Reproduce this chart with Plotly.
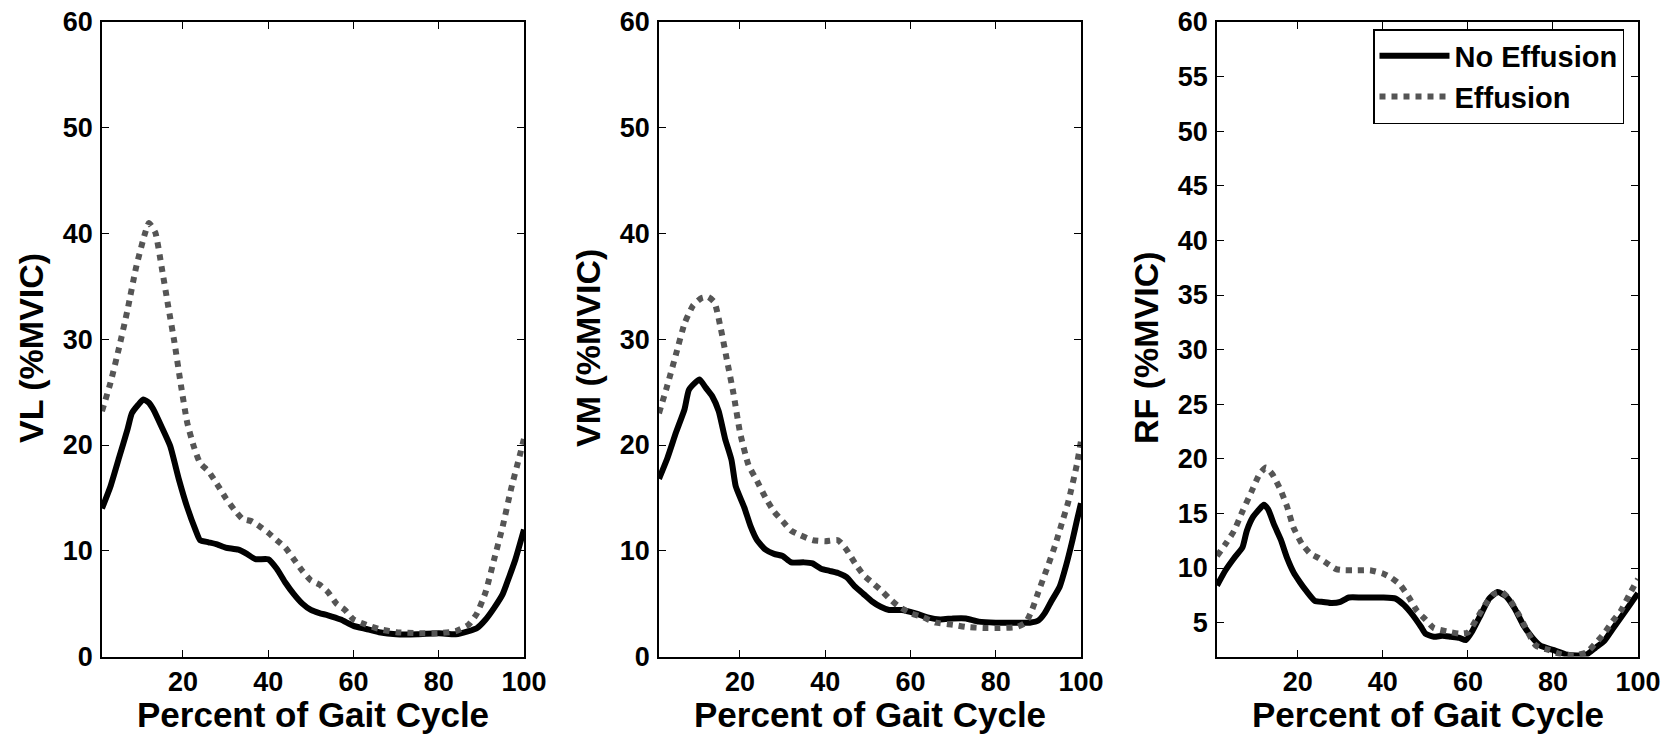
import plotly.graph_objects as go

# ---------------- data ----------------
x_ticks = [20, 40, 60, 80, 100]
y_ticks_a = [0, 10, 20, 30, 40, 50, 60]
y_ticks_rf = [5, 10, 15, 20, 25, 30, 35, 40, 45, 50, 55, 60]

series_names = ["No Effusion", "Effusion"]
panel_labels = ["VL (%MVIC)", "VM (%MVIC)", "RF (%MVIC)"]
x_title = "Percent of Gait Cycle"

# VL
vl_ne_x = [1, 3, 5, 7, 8, 9.5, 10.7, 12, 13, 15, 17, 19, 21, 23, 24, 26, 28, 30, 33, 35, 37, 40,
           42, 44, 46, 48, 50, 52, 54, 57, 60, 63, 66, 70, 75, 80, 84, 87, 89, 91, 93, 95, 96.5, 98, 100]
vl_ne_y = [14.0, 16.1, 18.8, 21.5, 23.0, 23.8, 24.3, 24.0, 23.4, 21.7, 19.9, 16.8, 14.1, 11.9, 11.0,
           10.8, 10.6, 10.3, 10.1, 9.7, 9.2, 9.2, 8.3, 7.0, 5.9, 5.0, 4.4, 4.1, 3.9, 3.5, 2.9, 2.6, 2.3,
           2.1, 2.1, 2.2, 2.1, 2.4, 2.7, 3.5, 4.6, 5.9, 7.5, 9.2, 12.0]
vl_ef_x = [1, 3, 5, 7, 9, 11, 12, 13.5, 15, 16.5, 18, 19.5, 21, 22.5, 24, 26, 28, 30, 32, 34, 36, 38,
           40, 42, 44, 46, 48, 50, 52, 54, 56, 58, 60, 63, 66, 70, 75, 80, 84, 87, 89, 91, 93, 95, 97, 99, 100]
vl_ef_y = [23.2, 25.9, 29.2, 32.8, 36.8, 39.9, 41.0, 40.1, 36.8, 33.2, 29.7, 25.7, 22.1, 19.9, 18.3,
           17.5, 16.3, 15.0, 13.9, 13.0, 12.8, 12.3, 11.7, 11.0, 10.3, 9.2, 8.1, 7.2, 6.8, 6.1, 5.0, 4.4,
           3.5, 3.0, 2.6, 2.3, 2.2, 2.2, 2.4, 3.0, 4.1, 6.1, 9.2, 12.3, 15.9, 19.0, 20.6]

# VM
vm_ne_x = [1, 3, 5, 7, 8, 9.5, 10.5, 12, 13.5, 15, 16.5, 18, 19, 21, 22.5, 24, 26, 28, 30, 32, 35, 37,
           39, 41, 43, 45, 47, 49, 51, 53, 55, 58, 61, 64, 67, 70, 73, 76, 80, 84, 88, 90, 91.5, 93, 95,
           96.5, 98, 99, 100]
vm_ne_y = [16.8, 18.8, 21.2, 23.4, 25.2, 25.9, 26.2, 25.4, 24.6, 23.2, 20.6, 18.6, 16.1, 14.1, 12.3,
           11.0, 10.1, 9.7, 9.5, 8.9, 8.9, 8.8, 8.3, 8.1, 7.9, 7.5, 6.6, 5.9, 5.2, 4.7, 4.4, 4.4, 4.1, 3.7,
           3.5, 3.6, 3.6, 3.3, 3.2, 3.2, 3.2, 3.4, 4.1, 5.2, 6.6, 8.6, 11.0, 12.8, 14.5]
vm_ef_x = [1, 3, 5, 7, 9, 11, 12.5, 14, 15.5, 17, 18.5, 20, 22, 24, 26, 28, 30, 32, 34, 37, 40, 43, 45,
           47, 49, 51, 53, 55, 57, 60, 63, 66, 70, 73, 77, 81, 85, 87, 88.5, 90, 92, 94, 95.5, 97, 99, 100]
vm_ef_y = [23.0, 25.7, 28.6, 31.5, 33.2, 33.9, 34.0, 33.5, 31.0, 27.9, 24.8, 21.2, 18.1, 16.6, 15.0,
           13.7, 12.8, 11.9, 11.5, 11.0, 10.9, 11.0, 10.1, 8.8, 7.7, 7.0, 6.3, 5.5, 4.8, 4.1, 3.7, 3.2,
           3.0, 2.8, 2.7, 2.7, 2.8, 3.2, 4.4, 6.1, 8.3, 10.6, 12.6, 14.6, 18.1, 20.4]

# RF
rf_ne_x = [1, 3, 5, 7, 8, 9.5, 11, 12, 13, 14.5, 16, 17.5, 19, 20.5, 22, 24, 26, 28, 30, 32, 35, 40,
           43, 45, 47, 49, 50, 52, 54, 56, 58, 59.5, 61, 63, 65, 67, 69, 71, 73, 75, 77, 80, 83, 86, 88,
           90, 92, 94, 96, 98, 100]
rf_ne_y = [8.4, 9.8, 10.9, 11.9, 13.4, 14.7, 15.4, 15.8, 15.4, 13.9, 12.6, 10.9, 9.6, 8.7, 7.9, 7.0,
           6.9, 6.8, 6.9, 7.3, 7.3, 7.3, 7.2, 6.6, 5.7, 4.6, 4.0, 3.7, 3.8, 3.7, 3.6, 3.4, 4.2, 5.7, 7.2,
           7.8, 7.4, 6.3, 4.8, 3.7, 2.9, 2.5, 2.1, 2.0, 2.1, 2.7, 3.3, 4.4, 5.5, 6.6, 7.7]
rf_ef_x = [1, 3, 5, 7, 9, 11, 12.5, 14, 16, 17.5, 19, 21, 23, 25, 27, 29, 31, 34, 37, 40, 42, 44, 46,
           48, 50, 52, 55, 58, 60, 62, 64, 66, 68, 70, 72, 74, 76, 79, 82, 85, 88, 90, 92, 94, 96, 98, 100]
rf_ef_y = [11.1, 12.2, 13.4, 15.2, 16.9, 18.6, 19.2, 18.6, 17.1, 15.6, 13.7, 12.2, 11.3, 10.9, 10.4,
           9.9, 9.8, 9.8, 9.8, 9.5, 9.1, 8.5, 7.4, 6.1, 5.3, 4.5, 4.2, 4.0, 4.1, 5.3, 6.6, 7.6, 7.8, 7.0,
           5.7, 4.2, 2.9, 2.5, 2.1, 2.0, 2.3, 3.1, 4.0, 5.1, 6.1, 7.6, 9.0]

# ---------------- figure ----------------
OFF = 8                      # page body margin of the html page
W, H = 1671 - OFF, 735 - OFF
FONT = "Liberation Sans"
solid_color = "black"
dot_color = "#555555"
LW = 6


def fx(px):
    return (px - OFF) / W


def fy(py):
    return 1 - (py - OFF) / H


panels = [
    (vl_ne_x, vl_ne_y, vl_ef_x, vl_ef_y, [0, 60], y_ticks_a),
    (vm_ne_x, vm_ne_y, vm_ef_x, vm_ef_y, [0, 60], y_ticks_a),
    (rf_ne_x, rf_ne_y, rf_ef_x, rf_ef_y, [1.9, 60], y_ticks_rf),
]
# panel frames in screen pixels (left, right); top / bottom shared
frames_px = [(102, 524), (659, 1081), (1217, 1638)]
top_px, bot_px = 22, 656.5

fig = go.Figure()
axis_font = dict(family=FONT, size=27, color="black", weight="bold")
xtitle_font = dict(family=FONT, size=35, color="black", weight="bold")
ytitle_font = dict(family=FONT, size=34, color="black", weight="bold")
common = dict(showline=True, linecolor="black", linewidth=1.5, mirror="ticks",
              ticks="inside", ticklen=7, tickwidth=1.2, tickcolor="black",
              showgrid=False, zeroline=False, tickfont=axis_font,
              ticklabeloverflow="allow")

annotations = []
for i, (nx, ny, ex, ey, yr, yt) in enumerate(panels):
    s = "" if i == 0 else str(i + 1)
    last = (i == 2)
    fig.add_trace(go.Scatter(x=nx, y=ny, mode="lines", name=series_names[0],
                             line=dict(color=solid_color, width=LW, shape="spline", smoothing=0.5),
                             xaxis="x" + s, yaxis="y" + s, showlegend=last))
    fig.add_trace(go.Scatter(x=ex, y=ey, mode="lines", name=series_names[1],
                             line=dict(color=dot_color, width=LW, dash="dot", shape="spline", smoothing=0.5),
                             xaxis="x" + s, yaxis="y" + s, showlegend=last))
    l, r = frames_px[i]
    dom_x = [fx(l), fx(r)]
    dom_y = [fy(bot_px), fy(top_px)]
    fig.layout["xaxis" + s] = dict(common, domain=dom_x, range=[1, 100], tickvals=x_ticks,
                                   anchor="y" + s, ticklabelstandoff=0)
    fig.layout["yaxis" + s] = dict(common, domain=dom_y, range=yr, tickvals=yt, anchor="x" + s,
                                   ticklabelstandoff=2)
    annotations.append(dict(text=x_title, xref="paper", yref="paper",
                            x=fx((l + r) / 2), y=fy(714), xanchor="center", yanchor="middle",
                            showarrow=False, font=xtitle_font))
    annotations.append(dict(text=panel_labels[i], xref="paper", yref="paper",
                            x=fx(l - 71), y=fy(348), xanchor="center",
                            yanchor="middle", textangle=-90, showarrow=False,
                            font=ytitle_font))

fig.update_layout(
    width=W, height=H, margin=dict(l=0, r=0, t=0, b=0, autoexpand=False),
    paper_bgcolor="white", plot_bgcolor="white",
    annotations=annotations,
    legend=dict(x=fx(1624), xanchor="right", y=fy(29), yanchor="top",
                bgcolor="white", bordercolor="black", borderwidth=1.5,
                font=dict(family=FONT, size=29, color="black", weight="bold"),
                itemwidth=70, tracegroupgap=0),
)

fig.write_html("out.html")
